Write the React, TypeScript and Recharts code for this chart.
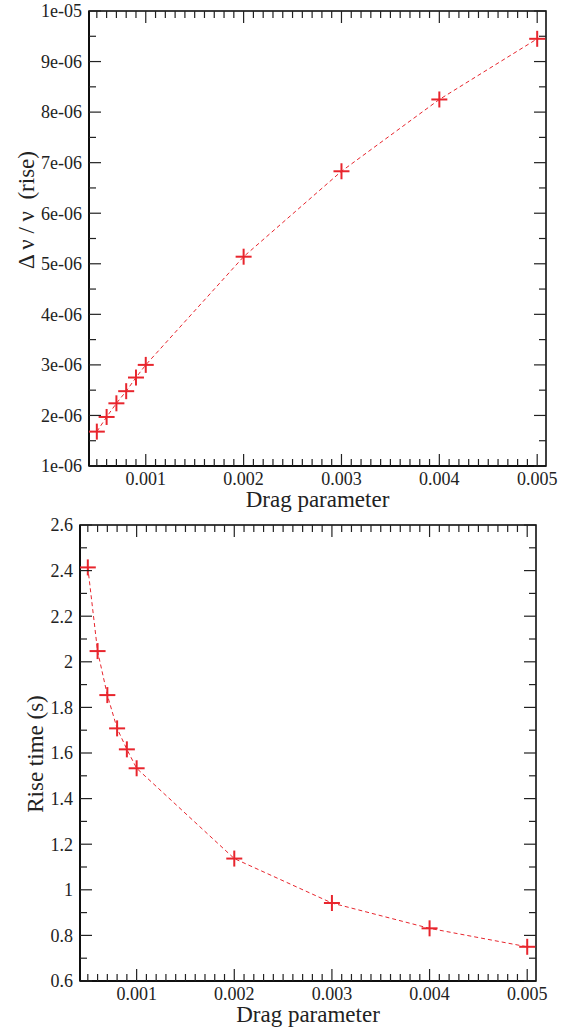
import { LineChart, Line, XAxis, YAxis, Label, ReferenceArea } from 'recharts';

// drag parameter values (shared by both panels)
const dragParam = [0.0005, 0.0006, 0.0007, 0.0008, 0.0009, 0.001, 0.002, 0.003, 0.004, 0.005];
// top panel: relative frequency shift during rise
const freqShift = [1.68e-6, 1.97e-6, 2.24e-6, 2.48e-6, 2.75e-6, 3.0e-6, 5.14e-6, 6.83e-6, 8.25e-6, 9.45e-6];
// bottom panel: rise time in seconds
const riseTime = [2.414, 2.047, 1.854, 1.708, 1.616, 1.533, 1.137, 0.942, 0.831, 0.75];

const xMajorTicks = [0.001, 0.002, 0.003, 0.004, 0.005];
const shiftMajorTicks = [1e-6, 2e-6, 3e-6, 4e-6, 5e-6, 6e-6, 7e-6, 8e-6, 9e-6, 1e-5];
const shiftTickLabels = ['1e-06', '2e-06', '3e-06', '4e-06', '5e-06', '6e-06', '7e-06', '8e-06', '9e-06', '1e-05'];
const timeMajorTicks = [0.6, 0.8, 1, 1.2, 1.4, 1.6, 1.8, 2, 2.2, 2.4, 2.6];
const timeTickLabels = ['0.6', '0.8', '1', '1.2', '1.4', '1.6', '1.8', '2', '2.2', '2.4', '2.6'];

// minor ticks: every 0.0001 on x, every 0.5e-6 / 0.1 on y
const xTicks = Array.from({ length: 46 }, (_, i) => (i + 5) / 10000);
const shiftTicks = Array.from({ length: 19 }, (_, i) => (i + 2) * 0.5e-6);
const timeTicks = Array.from({ length: 21 }, (_, i) => (i + 6) / 10);

const topData = dragParam.map((x, i) => ({ x, y: freqShift[i] }));
const bottomData = dragParam.map((x, i) => ({ x, y: riseTime[i] }));

const RED = '#e8252d';
const FONT = '"Liberation Serif", "Times New Roman", serif';
const MAJOR = 12;
const MINOR = 7;
const W = 571;

const near = (v: number, list: number[]) => list.findIndex((m) => Math.abs(m - v) < Math.abs(m) * 1e-6);

const Plus = (props: any) => {
  const { cx, cy, index } = props;
  if (cx == null || cy == null) return <g key={`p-${index}`} />;
  return (
    <g key={`p-${index}`} stroke={RED} strokeWidth={2}>
      <line x1={cx - 8} y1={cy} x2={cx + 8} y2={cy} />
      <line x1={cx} y1={cy - 8} x2={cx} y2={cy + 8} />
    </g>
  );
};

// bottom axis tick: inward mark, mirrored mark on the top edge, label for majors
function makeXTick(plotTop: number) {
  return (props: any) => {
    const { x, y, payload, index } = props;
    const m = near(payload.value, xMajorTicks);
    const len = m >= 0 ? MAJOR : MINOR;
    return (
      <g key={`xt-${index}`}>
        <line x1={x} y1={y} x2={x} y2={y - len} stroke="#222" strokeWidth={1.2} />
        <line x1={x} y1={plotTop} x2={x} y2={plotTop + len} stroke="#222" strokeWidth={1.2} />
        {m >= 0 && (
          <text x={x} y={y + 19} textAnchor="middle" fontSize={18} fill="#222" style={{ fontFamily: FONT }}>
            {xMajorTicks[m].toFixed(3)}
          </text>
        )}
      </g>
    );
  };
}

// left axis tick: inward mark, mirrored mark on the right edge, label for majors
function makeYTick(plotRight: number, majors: number[], labels: string[]) {
  return (props: any) => {
    const { x, y, payload, index } = props;
    const m = near(payload.value, majors);
    const len = m >= 0 ? MAJOR : MINOR;
    return (
      <g key={`yt-${index}`}>
        <line x1={x} y1={y} x2={x + len} y2={y} stroke="#222" strokeWidth={1.2} />
        <line x1={plotRight} y1={y} x2={plotRight - len} y2={y} stroke="#222" strokeWidth={1.2} />
        {m >= 0 && (
          <text x={x - 7} y={y} dy="0.35em" textAnchor="end" fontSize={18} fill="#222" style={{ fontFamily: FONT }}>
            {labels[m]}
          </text>
        )}
      </g>
    );
  };
}

interface PanelProps {
  data: Array<{ x: number; y: number }>;
  height: number;
  margin: { top: number; right: number; left: number; bottom: number };
  yWidth: number;
  yDomain: [number, number];
  yTicks: number[];
  yMajors: number[];
  yLabels: string[];
  title: string;
  titleX: number;
  titleY: number;
}

function Panel({ data, height, margin, yWidth, yDomain, yTicks, yMajors, yLabels, title, titleX, titleY }: PanelProps) {
  const xDomain: [number, number] = [0.00042, 0.00509];
  return (
    <LineChart width={W} height={height} data={data} margin={margin} style={{ fontFamily: FONT }}>
      <XAxis
        dataKey="x"
        type="number"
        domain={xDomain}
        allowDataOverflow
        ticks={xTicks}
        interval={0}
        tickSize={0}
        tickMargin={0}
        height={40}
        axisLine={{ stroke: '#000', strokeWidth: 1.5 }}
        tick={makeXTick(margin.top)}
      >
        <Label
          content={(p: any) => {
            const vb = p.viewBox;
            return (
              <text
                x={vb.x + vb.width / 2}
                y={vb.y + 41}
                textAnchor="middle"
                fontSize={23}
                fill="#222"
                style={{ fontFamily: FONT }}
              >
                Drag parameter
              </text>
            );
          }}
        />
      </XAxis>
      <YAxis
        type="number"
        domain={yDomain}
        allowDataOverflow
        ticks={yTicks}
        interval={0}
        tickSize={0}
        tickMargin={0}
        width={yWidth}
        axisLine={{ stroke: '#000', strokeWidth: 1.5 }}
        tick={makeYTick(W - margin.right, yMajors, yLabels)}
      >
        <Label
          content={() => (
            <text
              x={titleX}
              y={titleY}
              transform={`rotate(-90 ${titleX} ${titleY})`}
              textAnchor="middle"
              fontSize={23}
              fill="#222"
              style={{ fontFamily: FONT, whiteSpace: 'pre' }}
            >
              {title}
            </text>
          )}
        />
      </YAxis>
      <ReferenceArea
        x1={xDomain[0]}
        x2={xDomain[1]}
        y1={yDomain[0]}
        y2={yDomain[1]}
        fill="none"
        stroke="#000"
        strokeWidth={1.5}
        ifOverflow="visible"
      />
      <Line
        type="linear"
        dataKey="y"
        stroke={RED}
        strokeWidth={1}
        strokeDasharray="4 3"
        dot={Plus}
        activeDot={false}
        isAnimationActive={false}
      />
    </LineChart>
  );
}

export default function App() {
  return (
    <div
      style={{
        position: 'absolute',
        left: 0,
        top: 0,
        width: W,
        height: 1027,
        background: '#fff',
        fontFamily: FONT,
      }}
    >
      <Panel
        data={topData}
        height={515}
        margin={{ top: 11, right: 25, left: 9, bottom: 9 }}
        yWidth={80}
        yDomain={[1e-6, 1e-5]}
        yTicks={shiftTicks}
        yMajors={shiftMajorTicks}
        yLabels={shiftTickLabels}
        title={'\u0394 \u03bd / \u03bd  (rise)'}
        titleX={34}
        titleY={210}
      />
      <Panel
        data={bottomData}
        height={512}
        margin={{ top: 10, right: 35, left: 10, bottom: 6 }}
        yWidth={70}
        yDomain={[0.6, 2.6]}
        yTicks={timeTicks}
        yMajors={timeMajorTicks}
        yLabels={timeTickLabels}
        title="Rise time (s)"
        titleX={43}
        titleY={239}
      />
    </div>
  );
}
